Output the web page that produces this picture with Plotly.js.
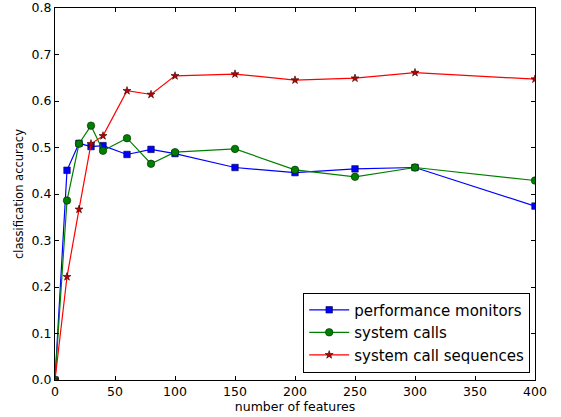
<!DOCTYPE html>
<html>
<head>
<meta charset="utf-8">
<script src="https://cdn.plot.ly/plotly-3.0.1.min.js"></script>
<style>html,body{margin:0;padding:0;background:#fff}#chart{width:561px;height:417px}</style>
</head>
<body>
<div id="chart"></div>
<script>
const features = [0, 10, 20, 30, 40, 60, 80, 100, 150, 200, 250, 300, 400];
const perfMonitors = [0.0, 0.451, 0.509, 0.502, 0.504, 0.485, 0.496, 0.487, 0.457, 0.446, 0.454, 0.457, 0.374];
const systemCalls = [0.0, 0.386, 0.508, 0.547, 0.493, 0.520, 0.465, 0.490, 0.497, 0.452, 0.437, 0.457, 0.429];
const callSequences = [0.0, 0.222, 0.367, 0.508, 0.525, 0.622, 0.614, 0.654, 0.658, 0.645, 0.649, 0.661, 0.647];
const seriesNames = ['performance monitors', 'system calls', 'system call sequences'];

const traces = [
  {x: features, y: perfMonitors, name: seriesNames[0], mode: 'lines+markers',
   line: {color: '#0000ff', width: 1.2},
   marker: {symbol: 'square', size: 6.5, color: '#0000ff', line: {color: '#000033', width: 0.6}}},
  {x: features, y: systemCalls, name: seriesNames[1], mode: 'lines+markers',
   line: {color: '#008000', width: 1.2},
   marker: {symbol: 'circle', size: 7.5, color: '#008000', line: {color: '#002000', width: 0.6}}},
  {x: features, y: callSequences, name: seriesNames[2], mode: 'lines+markers',
   line: {color: '#ff0000', width: 1.2},
   marker: {symbol: 'star', size: 6, color: '#bb0000', line: {color: '#330000', width: 0.6}}}
];

const layout = {
  width: 561, height: 417,
  margin: {l: 55, r: 26, t: 8, b: 37},
  paper_bgcolor: '#fff', plot_bgcolor: '#fff',
  font: {family: 'DejaVu Sans', size: 12, color: '#000'},
  showlegend: true,
  legend: {x: 0.99, y: 0.02, xanchor: 'right', yanchor: 'bottom',
    bordercolor: '#000', borderwidth: 1, bgcolor: '#fff', itemwidth: 40,
    font: {family: 'DejaVu Sans', size: 15, color: '#000'}, tracegroupgap: 0},
  xaxis: {range: [0, 400], tickvals: [0,50,100,150,200,250,300,350,400],
    ticks: 'inside', ticklen: 4, tickcolor: '#000', mirror: 'ticks',
    showline: true, linecolor: '#000', linewidth: 1, showgrid: false, zeroline: false,
    tickfont: {size: 12.5}, title: {text: 'number of features', font: {size: 12.5}, standoff: 3}},
  yaxis: {range: [0, 0.8], tickvals: [0,0.1,0.2,0.3,0.4,0.5,0.6,0.7,0.8], tickformat: '.1f',
    ticks: 'inside', ticklen: 4, tickcolor: '#000', mirror: 'ticks',
    showline: true, linecolor: '#000', linewidth: 1, showgrid: false, zeroline: false,
    tickfont: {size: 12.5}, title: {text: 'classification accuracy', font: {size: 11.5}, standoff: 5}}
};
Plotly.newPlot('chart', traces, layout, {displayModeBar: false, staticPlot: true});
</script>
</body>
</html>
